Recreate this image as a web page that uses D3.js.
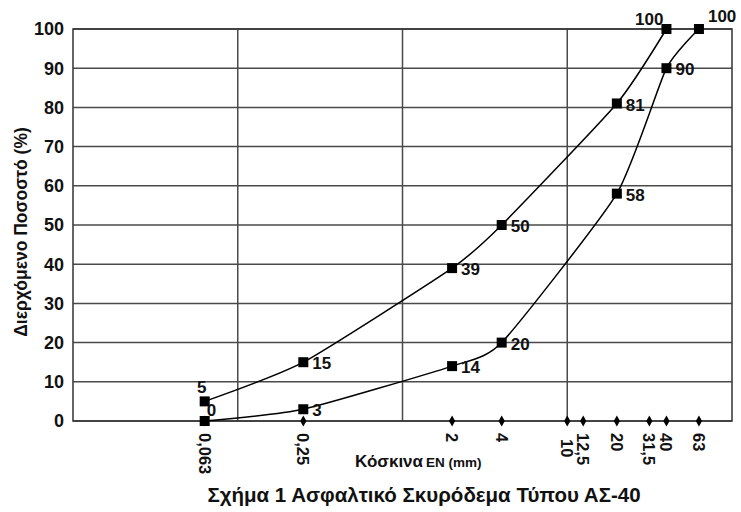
<!DOCTYPE html>
<html>
<head>
<meta charset="utf-8">
<script src="https://cdn.jsdelivr.net/npm/d3@7"></script>
<style>
  body { margin: 0; background: #fff; }
  text { font-family: "Liberation Sans", Arial, sans-serif; font-weight: bold; fill: #111; }
</style>
</head>
<body>
<div id="chart"></div>
<script>
// sieve sizes (mm) and labels on the x axis
const sieves = [0.063, 0.25, 2, 4, 10, 12.5, 20, 31.5, 40, 63]
const sieveLabels = ["0,063", "0,25", "2", "4", "10", "12,5", "20", "31,5", "40", "63"]

// upper grading limit
const upperSieves = [0.063, 0.25, 2, 4, 20, 40]
const upperPass = [5, 15, 39, 50, 81, 100]

// lower grading limit
const lowerSieves = [0.063, 0.25, 2, 4, 20, 40, 63]
const lowerPass = [0, 3, 14, 20, 58, 90, 100]

const yTicks = [0, 10, 20, 30, 40, 50, 60, 70, 80, 90, 100]

var width = 741, height = 512
var margin = {top: 29, right: 9, bottom: 91, left: 73}

var svg = d3.select("#chart")
    .append("svg")
    .attr("width", width)
    .attr("height", height)

var x = d3.scaleLog()
    .domain([0.01, 100])
    .range([margin.left, width - margin.right])

var y = d3.scaleLinear()
    .domain([0, 100])
    .range([height - margin.bottom, margin.top])

// horizontal grid
svg.append("g")
    .selectAll("line")
    .data(yTicks)
    .enter()
    .append("line")
    .attr("x1", x(0.01))
    .attr("x2", x(100))
    .attr("y1", d => y(d))
    .attr("y2", d => y(d))
    .attr("stroke", "#4a4a4a")
    .attr("stroke-width", 1.5)

// vertical grid at decades
svg.append("g")
    .selectAll("line")
    .data([0.1, 1, 10])
    .enter()
    .append("line")
    .attr("x1", d => x(d))
    .attr("x2", d => x(d))
    .attr("y1", y(0))
    .attr("y2", y(100))
    .attr("stroke", "#4a4a4a")
    .attr("stroke-width", 1.5)

// plot border
svg.append("rect")
    .attr("x", x(0.01))
    .attr("y", y(100))
    .attr("width", x(100) - x(0.01))
    .attr("height", y(0) - y(100))
    .attr("fill", "none")
    .attr("stroke", "#333")
    .attr("stroke-width", 1.5)

// y axis labels
svg.append("g")
    .selectAll("text")
    .data(yTicks)
    .enter()
    .append("text")
    .attr("x", x(0.01) - 9)
    .attr("y", d => y(d))
    .attr("dy", "0.36em")
    .attr("text-anchor", "end")
    .style("font-size", "18px")
    .text(d => d)

// y axis title
svg.append("text")
    .attr("transform", "translate(27,232) rotate(-90)")
    .attr("text-anchor", "middle")
    .style("font-size", "17.5px")
    .text("Διερχόμενο Ποσοστό (%)")

// sieve diamonds on the x axis
svg.append("g")
    .selectAll("path")
    .data(sieves)
    .enter()
    .append("path")
    .attr("d", d3.symbol().type(d3.symbolDiamond).size(34))
    .attr("transform", d => "translate(" + x(d) + "," + y(0) + ")")
    .attr("fill", "#000")

// sieve labels, rotated
svg.append("g")
    .selectAll("text")
    .data(sieves)
    .enter()
    .append("text")
    .attr("transform", (d, i) => {
        // "10" sits a bit lower than its neighbours in the original
        let dy = sieveLabels[i] === "10" ? 6 : 0
        return "translate(" + x(d) + "," + (y(0) + 12 + dy) + ") rotate(90)"
    })
    .attr("dy", "0.36em")
    .attr("text-anchor", "start")
    .style("font-size", "16.5px")
    .text((d, i) => sieveLabels[i])

// x axis title
var xt = svg.append("text")
    .attr("x", 355)
    .attr("y", 467)
xt.append("tspan").style("font-size", "17px").text("Κόσκινα")
xt.append("tspan").style("font-size", "13.5px").attr("dx", 3).text("EN (mm)")

// caption
svg.append("text")
    .attr("x", 424)
    .attr("y", 502)
    .attr("text-anchor", "middle")
    .style("font-size", "20.5px")
    .text("Σχήμα 1 Ασφαλτικό Σκυρόδεμα Τύπου ΑΣ-40")

var line = d3.line()
    .x(d => x(d[0]))
    .y(d => y(d[1]))
    .curve(d3.curveCardinal.tension(0.45))

function drawSeries(xs, ys, labelPos) {
    const pts = xs.map((s, i) => [s, ys[i]])
    svg.append("path")
        .datum(pts)
        .attr("d", line)
        .attr("fill", "none")
        .attr("stroke", "#000")
        .attr("stroke-width", 1.5)

    svg.append("g")
        .selectAll("rect")
        .data(pts)
        .enter()
        .append("rect")
        .attr("x", d => x(d[0]) - 5)
        .attr("y", d => y(d[1]) - 5)
        .attr("width", 10)
        .attr("height", 10)
        .attr("fill", "#000")

    svg.append("g")
        .selectAll("text")
        .data(pts)
        .enter()
        .append("text")
        .attr("x", (d, i) => x(d[0]) + labelPos(i)[0])
        .attr("y", (d, i) => y(d[1]) + labelPos(i)[1])
        .attr("dy", "0.36em")
        .attr("text-anchor", (d, i) => labelPos(i)[2] || "start")
        .style("font-size", "17px")
        .text(d => d[1])
}

drawSeries(upperSieves, upperPass, i => {
    if (i === 0) return [-3, -15, "middle"]
    if (i === upperSieves.length - 1) return [-3, -10, "end"]
    return [9, 1]
})

drawSeries(lowerSieves, lowerPass, i => {
    if (i === 0) return [2, -11]
    if (i === lowerSieves.length - 1) return [9, -13]
    return [9, 1]
})
</script>
</body>
</html>
